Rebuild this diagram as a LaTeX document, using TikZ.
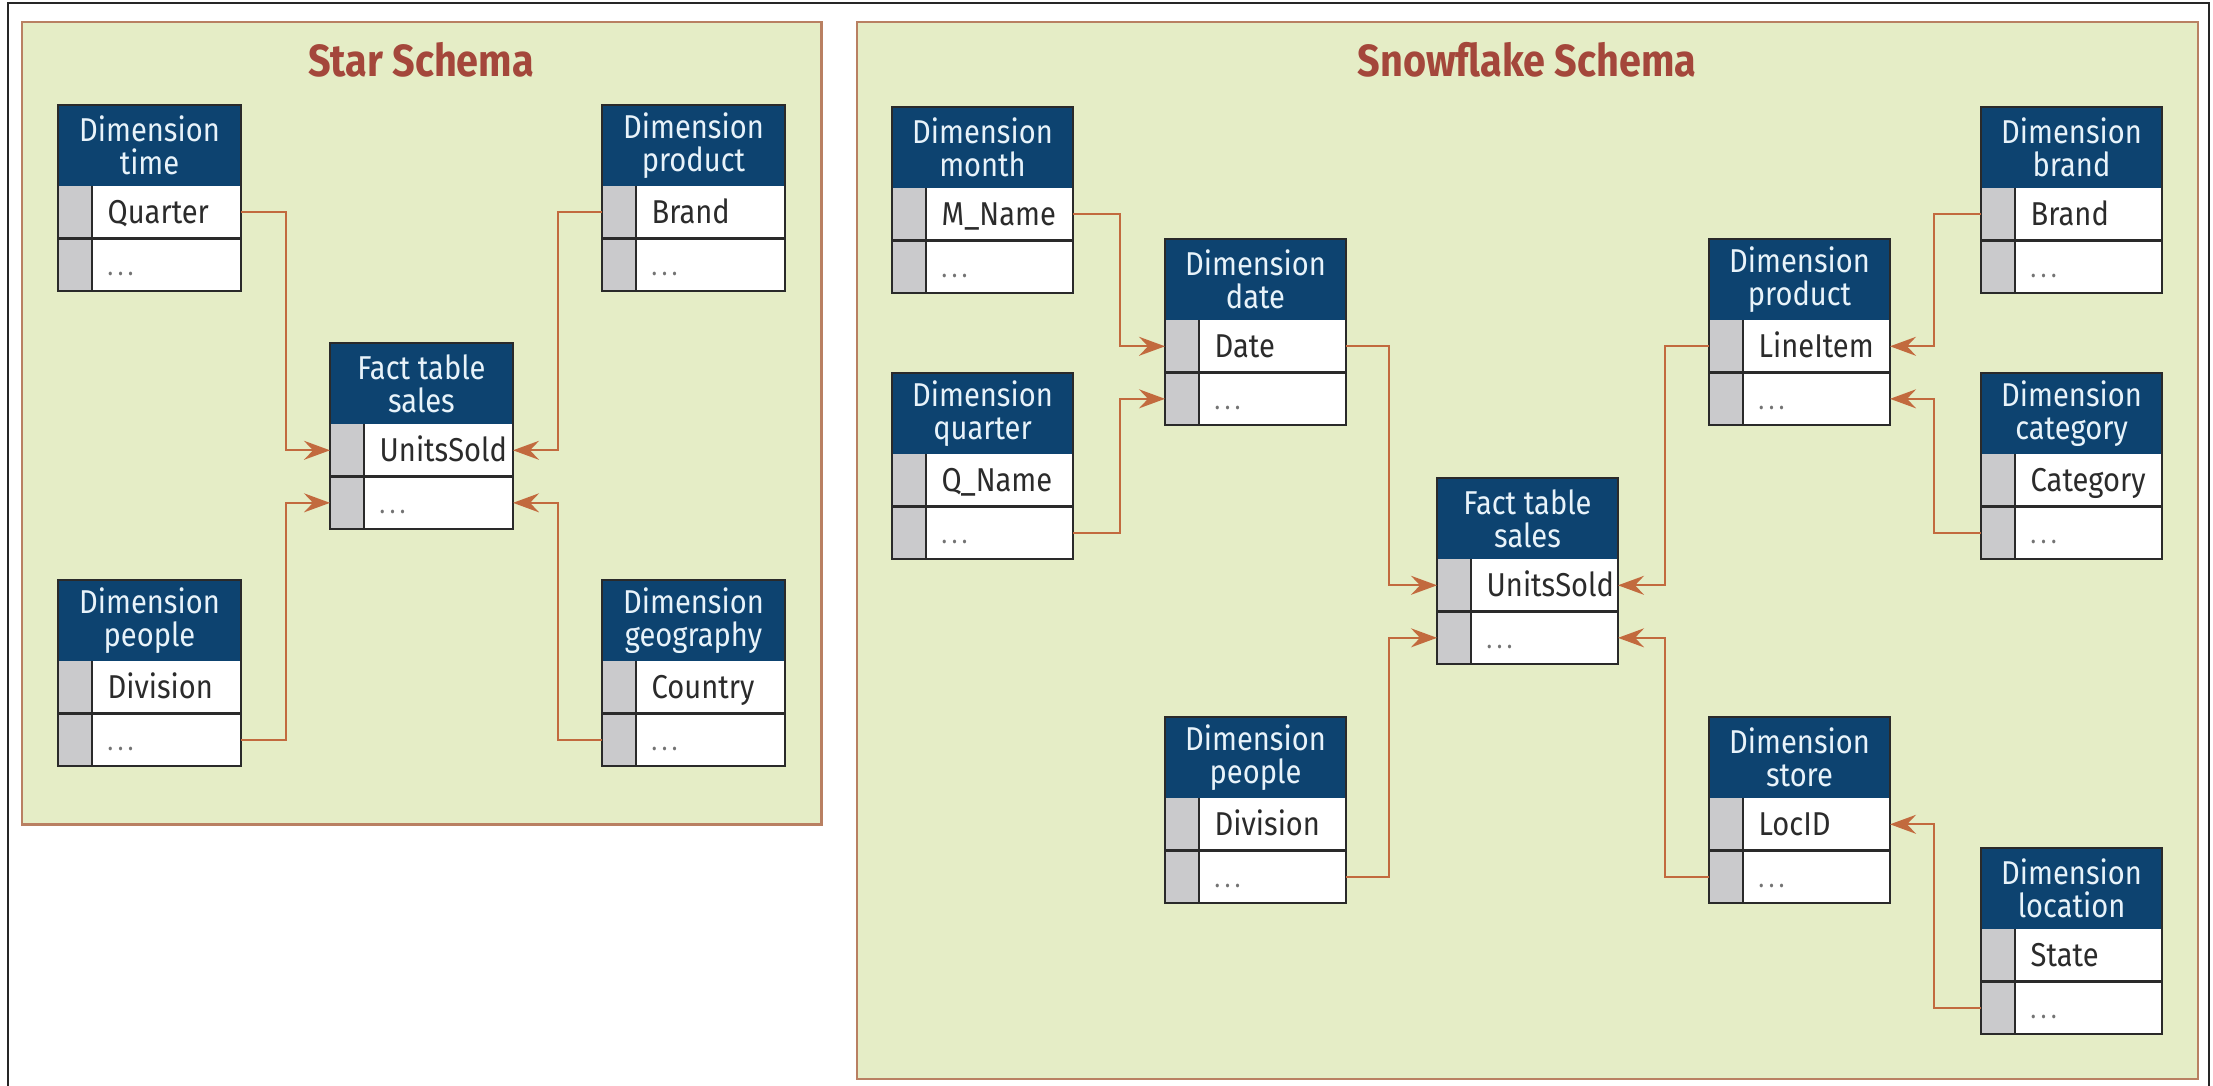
\documentclass[tikz,border=0pt]{standalone}
\usepackage{fontspec}
\setmainfont{Fira Sans}[FakeStretch=0.88]
\usetikzlibrary{arrows.meta,calc}

\definecolor{panelfill}{HTML}{E5EDC6}
\definecolor{panelline}{HTML}{B98062}
\definecolor{hdrblue}{HTML}{0D4370}
\definecolor{hdrtext}{HTML}{E8F3FA}
\definecolor{keygray}{HTML}{CACACC}
\definecolor{tblline}{HTML}{2A2A2A}
\definecolor{linkcol}{HTML}{C26A3E}
\definecolor{titlecol}{HTML}{A4473B}
\definecolor{fieldcol}{HTML}{2B2B2B}

% one dimension/fact table: name, left x, top y, width, header text, key field
\newcommand{\dbtable}[6]{%
  \node[hdr, minimum width=#4*0.01cm, anchor=north west] (#1) at (#2,#3) {#5};
  \node[fieldrow, minimum width=#4*0.01cm, anchor=north] (#1-a) at (#1.south) {};
  \node[fieldrow, minimum width=#4*0.01cm, anchor=north] (#1-b) at (#1-a.south) {};
  \fill[keygray] (#1-a.north west) rectangle ($(#1-b.south west)+(34,0)$);
  \draw[tbl] ($(#1-a.north west)+(34,0)$) -- ($(#1-b.south west)+(34,0)$);
  \draw[tbl] (#1-a.south west) -- (#1-a.south east);
  \draw[tbl] (#1.north west) rectangle (#1-b.south east);
  \node[fieldtxt, anchor=base west] (#1-at) at ($(#1-a.west)+(49,11)$) {#6};
  \node[dotstxt, anchor=base west] (#1-bt) at ($(#1-b.west)+(49,11)$) {.\kern1.3pt.\kern1.3pt.};
}

\begin{document}
\begin{tikzpicture}[x=0.01cm, y=-0.01cm,
  panel/.style={draw=panelline, fill=panelfill, line width=0.6pt, inner sep=0pt, outer sep=0pt, anchor=north west},
  schematitle/.style={text=titlecol, font=\fontsize{12.8}{14}\selectfont\bfseries, inner sep=0pt},
  hdr/.style={fill=hdrblue, text=hdrtext, inner sep=0pt, outer sep=0pt, minimum height=0.81cm,
    align=center, font=\fontsize{9.4}{9.3}\selectfont},
  fieldrow/.style={fill=white, inner sep=0pt, outer sep=0pt, minimum height=0.525cm},
  tbl/.style={draw=tblline, line width=0.75pt},
  fieldtxt/.style={text=fieldcol, inner sep=0pt, font=\fontsize{9.4}{10}\selectfont},
  dotstxt/.style={text=black!55, inner sep=0pt, font=\fontsize{7.5}{8}\selectfont},
  link/.style={draw=linkcol, line width=0.6pt, -{Stealth[length=0.26cm, width=0.19cm, inset=0.09cm]}}
]
\useasboundingbox (0,0) rectangle (2213,1086);
\fill[white] (0,0) rectangle (2213,1086);
\draw[black!85, line width=0.8pt] (8,1100) -- (8,3) -- (2209,3) -- (2209,1100);

% panels
\node[panel, minimum width=7.99cm, minimum height=8.02cm] (starpanel) at (22,22) {};
\node[panel, minimum width=13.40cm, minimum height=10.56cm] (snowpanel) at (857,22) {};
\node[schematitle] (startitle) at (421,60) {Star Schema};
\node[schematitle] (snowtitle) at (1527,60) {Snowflake Schema};

% star schema tables
\dbtable{s-time}{58}{105}{183}{Dimension\\time}{Quarter}
\dbtable{s-product}{602}{105}{183}{Dimension\\product}{Brand}
\dbtable{s-fact}{330}{343}{183}{Fact table\\sales}{UnitsSold}
\dbtable{s-people}{58}{580}{183}{Dimension\\people}{Division}
\dbtable{s-geo}{602}{580}{183}{Dimension\\geography}{Country}

\draw[link] (s-time-a.east) -- ++(45,0) |- (s-fact-a.west);
\draw[link] (s-people-b.east) -- ++(45,0) |- (s-fact-b.west);
\draw[link] (s-product-a.west) -- ++(-44,0) |- (s-fact-a.east);
\draw[link] (s-geo-b.west) -- ++(-44,0) |- (s-fact-b.east);

% snowflake schema tables
\dbtable{f-month}{892}{107}{181}{Dimension\\month}{M\_Name}
\dbtable{f-quarter}{892}{373}{181}{Dimension\\quarter}{Q\_Name}
\dbtable{f-date}{1165}{239}{181}{Dimension\\date}{Date}
\dbtable{f-fact}{1437}{478}{181}{Fact table\\sales}{UnitsSold}
\dbtable{f-people}{1165}{717}{181}{Dimension\\people}{Division}
\dbtable{f-product}{1709}{239}{181}{Dimension\\product}{LineItem}
\dbtable{f-store}{1709}{717}{181}{Dimension\\store}{LocID}
\dbtable{f-brand}{1981}{107}{181}{Dimension\\brand}{Brand}
\dbtable{f-category}{1981}{373}{181}{Dimension\\category}{Category}
\dbtable{f-location}{1981}{848}{181}{Dimension\\location}{State}

\draw[link] (f-month-a.east) -- ++(47,0) |- (f-date-a.west);
\draw[link] (f-quarter-b.east) -- ++(47,0) |- (f-date-b.west);
\draw[link] (f-date-a.east) -- ++(43,0) |- (f-fact-a.west);
\draw[link] (f-people-b.east) -- ++(43,0) |- (f-fact-b.west);
\draw[link] (f-product-a.west) -- ++(-44,0) |- (f-fact-a.east);
\draw[link] (f-store-b.west) -- ++(-44,0) |- (f-fact-b.east);
\draw[link] (f-brand-a.west) -- ++(-47,0) |- (f-product-a.east);
\draw[link] (f-category-b.west) -- ++(-47,0) |- (f-product-b.east);
\draw[link] (f-location-b.west) -- ++(-47,0) |- (f-store-a.east);
\end{tikzpicture}
\end{document}
